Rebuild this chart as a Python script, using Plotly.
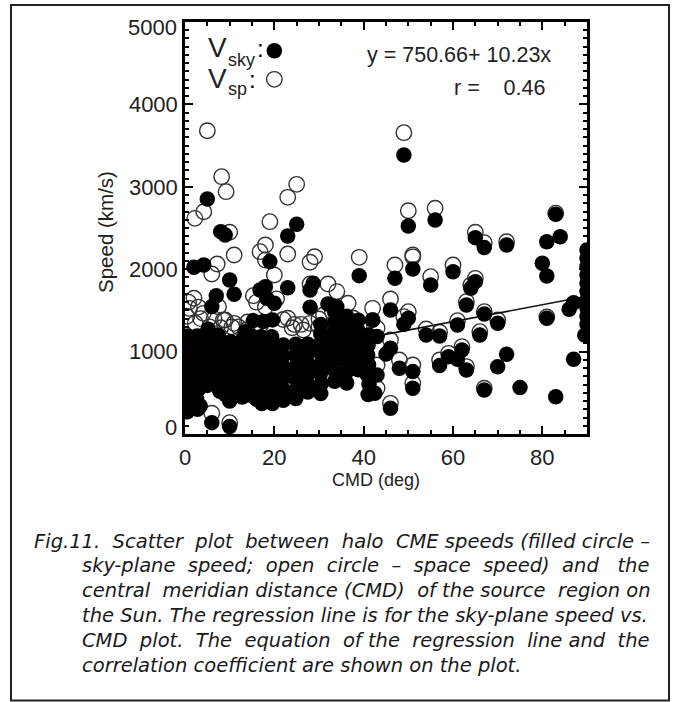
import plotly.graph_objects as go

# --- data ---
sky_cmd = [49,50,56,83,84,81,65,67,72,80,81,51,47,55,60,65,64,63,46,67,61,50,49,70,81,86,87,54,57,66,43,42,46,45,62,59,61,57,63,48,51,70,72,87,51,67,75,83,46,43,42.5,
           5,8,9,25,23,19,39,2,4.2,10,11,18,16.8,18.3,20,23,28.7,28,28,32,34,42,7,6,15.3,17.5,36,6,10,
           0.5,0.6,0.4,0.7,0.5,0.3,0.6,0.5,0.4,0.6,
           2.8,2.6,3.0,2.7,2.9,2.8,2.6,3.0,2.7,
           5.0,5.4,5.1,5.3,5.2,4.9,5.2,
           7.8,7.8,7.4,7.7,7.5,7.6,7.8,7.5,
           10,10.2,9.8,10.1,9.9,10,10.2,
           12.4,12.6,12.2,12.5,12.3,12.4,
           14.8,14.6,15,14.7,14.9,14.8,14.6,
           17.2,17,17.4,17.1,17.3,17.2,17,
           19.6,19.4,19.8,19.5,19.7,19.6,19.4,19.6,
           22,22.2,21.8,22.1,21.9,22,
           24.8,25,24.6,24.9,24.7,24.8,
           27.5,27.3,27.7,27.4,27.6,27.5,
           30.4,30.5,30.3,30.4,30.5,30.3,30.4,30.4,
           33.5,33.6,33.4,33.5,33.6,33.4,33.5,33.5,
           36.2,36,36.4,36.1,36.3,36.2,36,36.2,
           38.8,39,38.6,38.9,38.7,38.8,
           41,41.2,40.8,41.1,40.9,41,41.2,
           90,90,90,90,90,90,90,90,90,90,89.5,
           12.8,16,18.5,21,23.5,26.2,29,32,32,32,13.5,9,3.4,1.5]
sky_speed = [3386,2525,2597,2666,2395,2334,2383,2262,2294,2071,1918,2003,1889,1808,1970,1849,1768,1566,1505,1457,1323,1404,1331,1343,1404,1513,1594,1202,1190,1202,1182,1384,1040,971,1020,939,906,830,777,797,757,817,967,906,555,534,563,453,312,716,494,
             2852,2456,2415,2545,2403,2092,1922,2023,2051,1869,1695,1788,1748,1647,1586,1776,1829,1748,1538,1578,1546,1384,1679,1546,1376,1364,1424,138,90,
             270,380,490,600,710,820,930,1040,1150,1190,
             300,420,540,660,780,900,1020,1130,1190,
             590,710,830,950,1070,1180,1270,
             520,530,650,770,890,1010,1130,1200,
             400,520,640,760,880,1000,1120,
             520,640,760,880,1000,1120,
             470,590,710,830,950,1070,1190,
             370,490,620,790,920,1050,1180,
             370,500,630,800,930,1050,1180,1385,
             410,530,660,810,940,1080,
             430,550,680,830,960,1090,
             510,630,750,870,990,1090,
             490,610,730,850,970,1090,1210,1330,
             640,760,880,1000,1120,1240,1360,1480,
             620,740,860,980,1100,1220,1340,1430,
             780,900,1020,1140,1260,1380,
             480,600,720,840,960,1080,1200,
             2233,2130,2030,1930,1830,1730,1630,1530,1430,1330,1200,
             450,420,740,730,750,760,560,830,960,1090,1240,480,340,330]

sp_cmd = [5,49,8.2,9.2,4.2,2.2,25,23,10,19,50,56,83,65,67,72,51,51,47,55,60,65,64,63,46,67,61,50,49,70,81,54,57,66,43,42,46,62,59,57,63,48,51,51,67,46,43,43,
          11,18,16.8,18,23,29,28,39,7.2,6,20,15.3,20.5,2,1,7.5,4.1,9,11,13.8,23,28,26.5,31,37.7,32,34,36.5,28,6,10,13.5,8.6,24,0.4,2.3,5.5,16,18,17,39,10.5,30,33,
          3.5,6.5,8,12,14,15.5,26,30,0.8,3,22,24.5]
sp_speed = [3681,3657,3123,2941,2698,2617,3030,2872,2448,2577,2710,2739,2680,2448,2322,2334,2173,2150,2051,1910,2051,1889,1809,1606,1639,1485,1376,1485,1424,1384,1420,1275,1234,1242,1283,1525,1141,1060,979,898,818,898,838,615,555,372,838,555,
            2173,2294,2213,2112,2185,2152,2084,2144,2063,1942,1930,1679,1640,1647,1525,1545,1464,1383,1343,1262,1404,1343,1262,1445,1404,1821,1728,1586,1820,251,138,1220,1384,1290,1430,1343,1300,1600,1540,1330,1310,1300,1395,1480,
            1400,1400,1290,1300,1360,1260,1330,1300,1600,1540,1390,1330]

legend_cmd = [20]
legend_sky = [4650]
legend_sp = [4304]
fit_cmd = [0, 90]
fit_speed = [750.66, 1671.36]

x_ticks = [0, 20, 40, 60, 80]
y_ticks = [1000, 2000, 3000, 4000]
caption = [
    "Fig.11.  Scatter  plot  between  halo  CME speeds (filled circle –",
    "sky-plane  speed;  open  circle  –  space  speed)  and   the",
    "central  meridian distance (CMD)  of the source  region on",
    "the Sun. The regression line is for the sky-plane speed vs.",
    "CMD  plot.  The  equation  of the  regression  line and  the",
    "correlation coefficient are shown on the plot.",
]

L, R, T, B = 185, 587, 22, 434
def X(p): return (p - L) / (R - L)
def Y(p): return (B - p) / (B - T)

AX = "Liberation Sans"
INK = "#222222"
fig = go.Figure()
ring = dict(size=15.5, color="rgba(0,0,0,0)", line=dict(color="#333333", width=1.4))
fig.add_trace(go.Scatter(x=sp_cmd, y=sp_speed, mode="markers", marker=ring, showlegend=False))
fig.add_trace(go.Scatter(x=legend_cmd, y=legend_sp, mode="markers", marker=ring, showlegend=False))
fig.add_trace(go.Scatter(x=fit_cmd, y=fit_speed, mode="lines", line=dict(color="#111111", width=1.6), showlegend=False))
disc = dict(size=15.5, color="#000000", line=dict(width=0))
fig.add_trace(go.Scatter(x=sky_cmd, y=sky_speed, mode="markers", marker=disc, showlegend=False))
fig.add_trace(go.Scatter(x=legend_cmd, y=legend_sky, mode="markers", marker=disc, showlegend=False))

def note(text, x, y, size, anchor="left", family=AX, color=INK, italic=False):
    fig.add_annotation(text=text.replace("  ", "&nbsp; "), x=X(x), y=Y(y), xref="paper", yref="paper", showarrow=False,
                       xanchor=anchor, yanchor="middle", align=anchor,
                       font=dict(family=family, size=size, color=color, style="italic" if italic else "normal"))

note("5000", 179, 27, 22, "right")
note("0", 179, 427, 22, "right")
note("V", 206, 48, 28)
note("sky", 226, 60, 18)
note("V", 206, 78, 28)
note("sp", 226, 89, 18)
note(":", 260, 49, 24, "center", color="#000000")
note(":", 252, 79, 24, "center", color="#000000")
note("y = 750.66+ 10.23x", 365, 55, 21.5)
note("r =&nbsp;&nbsp;&nbsp; 0.46", 452, 88, 21.5)
note("CMD (deg)", 376, 480, 18, "center")
fig.add_annotation(text="Speed (km/s)", x=X(105), y=Y(232), xref="paper", yref="paper", showarrow=False,
                   textangle=-90, font=dict(family=AX, size=20.5, color=INK), xanchor="center", yanchor="middle")

for i, line in enumerate(caption):
    note(line, 32 if i == 0 else 80, 541 + i * 24.8, 19.5, "left", family="DejaVu Sans", color="#1a1a1a", italic=True)

fig.add_shape(type="rect", xref="paper", yref="paper", x0=X(11), x1=X(669), y0=Y(5), y1=Y(700.5),
              line=dict(color="#222222", width=2), fillcolor="rgba(0,0,0,0)", layer="below")

axis_common = dict(showgrid=False, zeroline=False, showline=True, linecolor="#000000", linewidth=2.5,
                   mirror="allticks", ticks="inside", tickcolor="#000000", tickwidth=1.5, ticklen=8,
                   tickfont=dict(family=AX, size=22, color=INK))
fig.update_xaxes(range=[0, 90], tickvals=x_ticks, ticktext=[str(v) for v in x_ticks], ticklabelstandoff=2,
                 minor=dict(dtick=5, ticks="inside", ticklen=4, tickwidth=2, tickcolor="#000000"), **axis_common)
fig.update_yaxes(range=[0, 5000], tickvals=y_ticks, ticktext=[str(v) for v in y_ticks],
                 minor=dict(dtick=100, ticks="inside", ticklen=4, tickwidth=2, tickcolor="#000000"), **axis_common)
fig.update_layout(width=674, height=702, margin=dict(l=L, r=674 - R, t=T, b=702 - B),
                  paper_bgcolor="white", plot_bgcolor="white", showlegend=False)
# drop the page's default body margin so the figure fills the window
fig.write_html("out.html", config=dict(displayModeBar=False),
               post_script="document.body.style.margin='0';document.documentElement.style.overflow='hidden';")
